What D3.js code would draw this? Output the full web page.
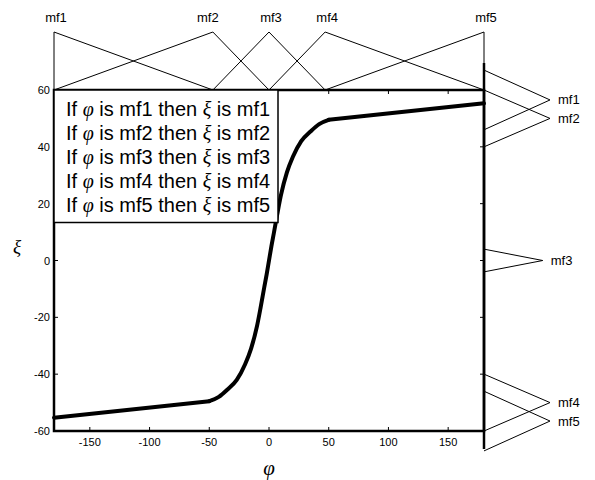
<!DOCTYPE html>
<html>
<head>
<meta charset="utf-8">
<script src="https://cdn.jsdelivr.net/npm/d3@7"></script>
<style>
  body { margin: 0; background: #fff; }
  text { font-family: Arial, "Liberation Sans", sans-serif; fill: #000; }
  .greek { font-family: "Liberation Serif", "DejaVu Serif", serif; font-style: italic; fill: #000; }
</style>
</head>
<body>
<div id="chart"></div>
<script>
// control surface phi -> xi
var phi = [-180, -50, -42, -35, -27, -20, -15, -10, -7, -4, -2, 0, 2, 4, 7, 10, 15, 20, 27, 35, 42, 50, 180];
var xi  = [-55.3, -49.5, -48, -45.5, -42, -36.5, -31, -23, -16.5, -9.5, -5, 0, 5, 9.5, 16.5, 23, 31, 36.5, 42, 45.5, 48, 49.5, 55.3];

var xTicks = [-150, -100, -50, 0, 50, 100, 150];
var yTicks = [-60, -40, -20, 0, 20, 40, 60];

// membership functions (a, peak, c)
var mfNames = ["mf1", "mf2", "mf3", "mf4", "mf5"];
var phiMf = [[-180, -180, -47], [-180, -47, 0], [-47, 0, 47], [0, 47, 180], [47, 180, 180]];
var xiMf = [[46, 56.5, 67], [40, 50, 60], [-4, 0, 4], [-60, -50, -40], [-67, -56.5, -46]];
var xiMfHeight = [1, 1, 0.89, 1, 1];

var W = 595, H = 480;
var svg = d3.select("#chart").append("svg")
  .attr("width", W).attr("height", H);

var x = d3.scaleLinear().domain([-180, 180]).range([54, 484]);
var y = d3.scaleLinear().domain([-60, 60]).range([431, 90]);
var mfTop = d3.scaleLinear().domain([0, 1]).range([90, 32]);     // height of phi mfs
var mfSide = d3.scaleLinear().domain([0, 1]).range([484, 550]);  // width of xi mfs

var tickLen = 4;

// ---- top membership functions (phi)
var topLine = d3.line().x(function(d) {return x(d[0]);}).y(function(d) {return mfTop(d[1]);});
svg.append("g").selectAll("path")
  .data(phiMf)
  .enter().append("path")
    .attr("d", function(d) {return topLine([[d[0], 0], [d[1], 1], [d[2], 0]]);})
    .attr("fill", "none").attr("stroke", "#000").attr("stroke-width", 1);

svg.append("g").selectAll("text")
  .data(phiMf)
  .enter().append("text")
    .attr("x", function(d, i) {return x(d[1]) + (i == 1 ? -5 : 2);})
    .attr("y", 22)
    .attr("text-anchor", "middle")
    .attr("font-size", 13)
    .text(function(d, i) {return mfNames[i];});

// ---- right membership functions (xi)
var sideLine = d3.line().x(function(d) {return mfSide(d[1]);}).y(function(d) {return y(d[0]);});
svg.append("g").selectAll("path")
  .data(xiMf)
  .enter().append("path")
    .attr("d", function(d, i) {return sideLine([[d[0], 0], [d[1], xiMfHeight[i]], [d[2], 0]]);})
    .attr("fill", "none").attr("stroke", "#000").attr("stroke-width", 1);

svg.append("g").selectAll("text")
  .data(xiMf)
  .enter().append("text")
    .attr("x", function(d, i) {return mfSide(xiMfHeight[i]) + 8;})
    .attr("y", function(d) {return y(d[1]);})
    .attr("dominant-baseline", "central")
    .attr("font-size", 13)
    .text(function(d, i) {return mfNames[i];});

// right mf axis line
svg.append("line")
  .attr("x1", x(180)).attr("x2", x(180))
  .attr("y1", y(69.5)).attr("y2", y(-66.3))
  .attr("stroke", "#000").attr("stroke-width", 2.5);

// ---- main frame
svg.append("rect")
  .attr("x", x(-180)).attr("y", y(60))
  .attr("width", x(180) - x(-180)).attr("height", y(-60) - y(60))
  .attr("fill", "none").attr("stroke", "#000").attr("stroke-width", 2.5);

// ticks (mirrored, pointing inward)
var ticks = svg.append("g").attr("stroke", "#000").attr("stroke-width", 1);
xTicks.forEach(function(t) {
  ticks.append("line").attr("x1", x(t)).attr("x2", x(t)).attr("y1", y(-60)).attr("y2", y(-60) - tickLen);
  ticks.append("line").attr("x1", x(t)).attr("x2", x(t)).attr("y1", y(60)).attr("y2", y(60) + tickLen);
});
yTicks.forEach(function(t) {
  ticks.append("line").attr("x1", x(-180)).attr("x2", x(-180) + tickLen).attr("y1", y(t)).attr("y2", y(t));
  ticks.append("line").attr("x1", x(180)).attr("x2", x(180) - tickLen).attr("y1", y(t)).attr("y2", y(t));
});

// tick labels
svg.append("g").selectAll("text")
  .data(xTicks)
  .enter().append("text")
    .attr("x", function(d) {return x(d);})
    .attr("y", y(-60) + 11)
    .attr("dominant-baseline", "central")
    .attr("text-anchor", "middle")
    .attr("font-size", 11)
    .text(function(d) {return d;});

svg.append("g").selectAll("text")
  .data(yTicks)
  .enter().append("text")
    .attr("x", x(-180) - 4)
    .attr("y", function(d) {return y(d);})
    .attr("dominant-baseline", "central")
    .attr("text-anchor", "end")
    .attr("font-size", 11)
    .text(function(d) {return d;});

// axis titles
svg.append("text").attr("class", "greek")
  .attr("x", x(0)).attr("y", 468)
  .attr("dominant-baseline", "central").attr("text-anchor", "middle")
  .attr("font-size", 21).text("φ");
svg.append("text").attr("class", "greek")
  .attr("x", 17).attr("y", 246)
  .attr("dominant-baseline", "central").attr("text-anchor", "middle")
  .attr("font-size", 19).text("ξ");

// ---- control curve: straight tails, smooth middle
var pts = phi.map(function(p, i) {return [p, xi[i]];});
var n = pts.length;
var lineLin = d3.line().x(function(d) {return x(d[0]);}).y(function(d) {return y(d[1]);});
var lineSmooth = d3.line().x(function(d) {return x(d[0]);}).y(function(d) {return y(d[1]);})
  .curve(d3.curveMonotoneX);
var curveG = svg.append("g")
  .attr("fill", "none").attr("stroke", "#000").attr("stroke-width", 4)
  .attr("stroke-linejoin", "round").attr("stroke-linecap", "round");
curveG.append("path").attr("d", lineLin(pts.slice(0, 2)));
curveG.append("path").attr("d", lineSmooth(pts.slice(1, n - 1)));
curveG.append("path").attr("d", lineLin(pts.slice(n - 2)));

// ---- rule legend
var legend = svg.append("g");
legend.append("rect")
  .attr("x", x(-180)).attr("y", y(60))
  .attr("width", 224).attr("height", 132.5)
  .attr("fill", "#fff").attr("stroke", "#000").attr("stroke-width", 1.5);

mfNames.forEach(function(name, i) {
  var t = legend.append("text")
    .attr("x", 66).attr("y", 108.5 + i * 24.2)
    .attr("dominant-baseline", "central")
    .attr("font-size", 20);
  t.append("tspan").text("If ");
  t.append("tspan").attr("class", "greek").text("φ");
  t.append("tspan").text(" is " + name + " then ");
  t.append("tspan").attr("class", "greek").text("ξ");
  t.append("tspan").text(" is " + name);
});
</script>
</body>
</html>
